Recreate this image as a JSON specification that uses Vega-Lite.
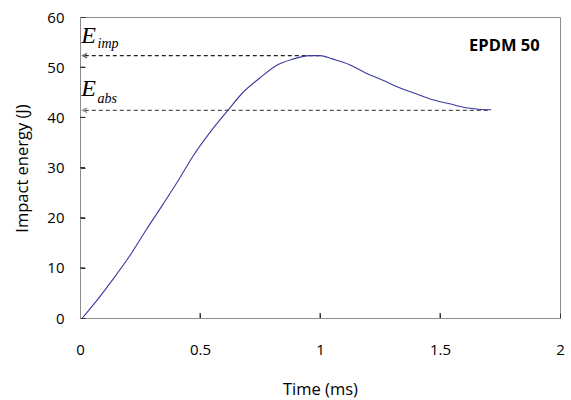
{
  "$schema": "https://vega.github.io/schema/vega-lite/v6.json",
  "width": 480,
  "height": 301,
  "autosize": "none",
  "padding": {"left": 80, "top": 17, "right": 11, "bottom": 82},
  "background": "white",
  "config": {
    "view": {"stroke": "#8c8c8c", "strokeWidth": 1},
    "font": "Open Sans",
    "axis": {
      "grid": false,
      "domainColor": "#8c8c8c",
      "tickColor": "#333333",
      "tickWidth": 1,
      "tickSize": -5,
      "labelFont": "Open Sans",
      "labelFontSize": 15,
      "labelColor": "#000000",
      "titleFont": "Open Sans",
      "titleFontSize": 16.5,
      "titleFontWeight": "normal",
      "titleColor": "#000000"
    }
  },
  "datasets": {
    "curve": [
      {"t": 0.01, "e": 0},
      {"t": 0.067, "e": 3.3},
      {"t": 0.137, "e": 7.7},
      {"t": 0.206, "e": 12.3},
      {"t": 0.276, "e": 17.6},
      {"t": 0.345, "e": 22.6},
      {"t": 0.412, "e": 27.6},
      {"t": 0.47, "e": 32.2},
      {"t": 0.54, "e": 36.9},
      {"t": 0.616, "e": 41.4},
      {"t": 0.678, "e": 44.9},
      {"t": 0.748, "e": 47.8},
      {"t": 0.817, "e": 50.3},
      {"t": 0.887, "e": 51.6},
      {"t": 0.956, "e": 52.3},
      {"t": 1.0, "e": 52.3},
      {"t": 1.053, "e": 51.6},
      {"t": 1.123, "e": 50.5},
      {"t": 1.192, "e": 48.8},
      {"t": 1.262, "e": 47.4},
      {"t": 1.331, "e": 45.9},
      {"t": 1.401, "e": 44.7},
      {"t": 1.47, "e": 43.5},
      {"t": 1.54, "e": 42.7},
      {"t": 1.609, "e": 41.9},
      {"t": 1.66, "e": 41.6},
      {"t": 1.713, "e": 41.5}
    ],
    "refs": [
      {"name": "imp", "t1": 0.02, "t2": 1.0, "e": 52.3, "color": "#222222"},
      {"name": "abs", "t1": 0.02, "t2": 1.713, "e": 41.4, "color": "#555555"}
    ],
    "bigE": [
      {"t": 0.005, "e": 54.9, "label": "E"},
      {"t": 0.005, "e": 44.3, "label": "E"}
    ],
    "subs": [
      {"t": 0.073, "e": 53.9, "label": "imp"},
      {"t": 0.073, "e": 42.8, "label": "abs"}
    ],
    "tag": [
      {"t": 1.915, "e": 53.2, "label": "EPDM 50"}
    ],
    "xticks": [{"t": 0.5}, {"t": 1.0}, {"t": 1.5}],
    "yticks": [{"e": 10}, {"e": 20}, {"e": 30}, {"e": 40}, {"e": 50}]
  },
  "encoding": {
    "x": {
      "type": "quantitative",
      "scale": {"domain": [0, 2], "nice": false},
      "axis": {
        "title": "Time (ms)",
        "values": [0, 0.5, 1, 1.5, 2],
        "format": "~g",
        "labelPadding": 29,
        "labelFlush": false,
        "titleY": 71,
        "titleBaseline": "middle"
      }
    },
    "y": {
      "type": "quantitative",
      "scale": {"domain": [0, 60], "nice": false},
      "axis": {
        "title": "Impact energy (J)",
        "values": [0, 10, 20, 30, 40, 50, 60],
        "labelPadding": 21,
        "labelBaseline": "middle",
        "titleX": -58,
        "titleY": 151,
        "titleAngle": -90,
        "titleAlign": "center",
        "titleBaseline": "middle"
      }
    }
  },
  "layer": [
    {
      "data": {"name": "xticks"},
      "mark": {"type": "rule", "color": "#333333", "strokeWidth": 1},
      "encoding": {
        "x": {"field": "t"},
        "y": {"datum": 0},
        "y2": {"datum": 1.0}
      }
    },
    {
      "data": {"name": "yticks"},
      "mark": {"type": "rule", "color": "#333333", "strokeWidth": 1},
      "encoding": {
        "y": {"field": "e"},
        "x": {"datum": 0},
        "x2": {"datum": 0.021}
      }
    },
    {
      "data": {"name": "refs"},
      "mark": {"type": "rule", "strokeDash": [4, 3], "strokeWidth": 1.2},
      "encoding": {
        "x": {"field": "t1"},
        "x2": {"field": "t2"},
        "y": {"field": "e"},
        "color": {"field": "color", "type": "nominal", "scale": null}
      }
    },
    {
      "data": {"name": "refs"},
      "mark": {"type": "point", "shape": "M1,-1L-1,0L1,1", "filled": false, "size": 20, "strokeWidth": 1.2},
      "encoding": {
        "x": {"field": "t1"},
        "y": {"field": "e"},
        "color": {"field": "color", "type": "nominal", "scale": null}
      }
    },
    {
      "data": {"name": "curve"},
      "mark": {"type": "line", "color": "#3b3ba0", "strokeWidth": 1.1, "interpolate": "monotone"},
      "encoding": {
        "x": {"field": "t"},
        "y": {"field": "e"}
      }
    },
    {
      "data": {"name": "bigE"},
      "mark": {"type": "text", "font": "Liberation Serif", "fontStyle": "italic", "fontSize": 24, "align": "left", "baseline": "alphabetic", "color": "#000000"},
      "encoding": {
        "x": {"field": "t"},
        "y": {"field": "e"},
        "text": {"field": "label"}
      }
    },
    {
      "data": {"name": "subs"},
      "mark": {"type": "text", "font": "Liberation Serif", "fontStyle": "italic", "fontSize": 14, "align": "left", "baseline": "alphabetic", "color": "#000000"},
      "encoding": {
        "x": {"field": "t"},
        "y": {"field": "e"},
        "text": {"field": "label"}
      }
    },
    {
      "data": {"name": "tag"},
      "mark": {"type": "text", "font": "Open Sans", "fontWeight": "bold", "fontSize": 16.5, "align": "right", "baseline": "alphabetic", "color": "#000000"},
      "encoding": {
        "x": {"field": "t"},
        "y": {"field": "e"},
        "text": {"field": "label"}
      }
    }
  ]
}
